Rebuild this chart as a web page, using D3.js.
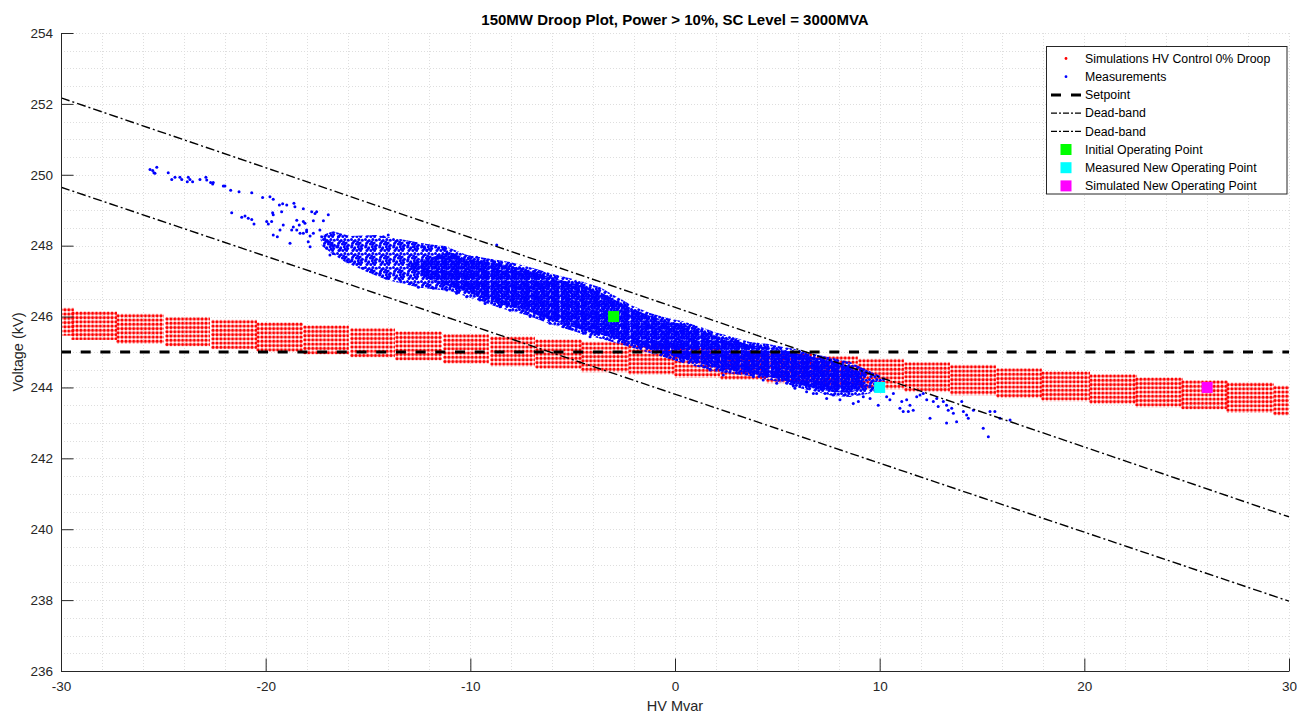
<!DOCTYPE html>
<html>
<head>
<meta charset="utf-8">
<script src="https://cdn.jsdelivr.net/npm/d3@7"></script>
<style>
body { margin: 0; background: #fff; }
text { font-family: "Liberation Sans", Arial, sans-serif; }
</style>
</head>
<body>
<div id="chart"></div>
<script>
// axis ticks
const xTicks = [-30, -20, -10, 0, 10, 20, 30];
const yTicks = [236, 238, 240, 242, 244, 246, 248, 250, 252, 254];
const xMinor = d3.range(-30, 30.01, 2);
const yMinor = d3.range(236, 254.01, 0.5);

// simulated points: blocks of the simulation grid (Q range, V range)
const simQ0 = [-30, -29.41, -27.21, -24.82, -22.57, -20.37, -18.08, -15.78, -13.58, -11.24, -8.94, -6.74, -4.50, -2.20, 0.05, 2.30, 4.54, 6.79, 9.04, 11.29, 13.53, 15.78, 17.98, 20.33, 22.57, 24.82, 27.02, 29.32];
const simQ1 = [-29.46, -27.36, -25.07, -22.82, -20.52, -18.27, -16.03, -13.78, -11.48, -9.19, -6.94, -4.64, -2.35, -0.10, 2.10, 4.35, 6.60, 8.84, 11.09, 13.34, 15.59, 17.83, 20.18, 22.48, 24.72, 26.92, 29.17, 30];
const simVTop = [246.19, 246.09, 246.02, 245.93, 245.85, 245.78, 245.70, 245.62, 245.53, 245.45, 245.38, 245.30, 245.23, 245.15, 245.08, 245.00, 244.92, 244.83, 244.75, 244.66, 244.58, 244.49, 244.40, 244.32, 244.23, 244.15, 244.08, 243.99];
const simVBot = [245.52, 245.40, 245.29, 245.22, 245.14, 245.06, 244.99, 244.91, 244.82, 244.73, 244.65, 244.58, 244.49, 244.42, 244.34, 244.27, 244.18, 244.10, 244.01, 243.93, 243.84, 243.76, 243.67, 243.59, 243.50, 243.44, 243.34, 243.27];

// measurements: outline of the cloud, its dense core, and the loose points
const envQ = [-17.35, -16.71, -15.88, -14.61, -13.44, -12.12, -11.24, -10.16, -8.89, -8.06, -6.94, -5.96, -4.79, -3.66, -2.83, -2.05, -1.22, -0.39, 0.39, 1.22, 2.05, 2.83, 3.66, 4.50, 5.28, 6.11, 6.94, 7.72, 8.55, 9.38, 10.26,
              10.26, 9.33, 8.55, 7.72, 6.94, 6.11, 5.28, 3.66, 2.05, 0.39, -1.22, -2.83, -4.50, -6.11, -7.23, -8.55, -9.53, -10.99, -12.46, -14.07, -15.05, -16.12, -16.71, -17.25];
const envV = [248.27, 248.41, 248.27, 248.30, 248.19, 248.05, 247.99, 247.74, 247.62, 247.54, 247.37, 247.20, 247.03, 246.83, 246.55, 246.30, 246.10, 245.96, 245.87, 245.71, 245.54, 245.42, 245.28, 245.23, 245.14, 245.06, 244.92, 244.83, 244.72, 244.49, 244.27,
              243.93, 243.81, 243.73, 243.76, 243.87, 243.98, 244.13, 244.32, 244.44, 244.69, 244.97, 245.25, 245.51, 245.79, 246.04, 246.24, 246.44, 246.72, 246.81, 247.03, 247.26, 247.54, 247.76, 247.99];
const coreQ = [-13.19, -10.99, -10.16, -8.89, -8.06, -6.94, -5.96, -4.79, -3.66, -2.83, -2.05, -1.22, -0.39, 0.39, 1.22, 2.05, 2.83, 3.66, 4.50, 5.28, 6.11, 6.94, 7.72, 8.55, 9.14,
               9.14, 8.55, 7.72, 6.94, 6.11, 5.28, 3.66, 2.05, 0.39, -1.22, -2.83, -4.50, -6.11, -7.23, -8.55, -9.53, -10.50, -11.97];
const coreV = [247.47, 247.82, 247.62, 247.51, 247.43, 247.26, 247.09, 246.92, 246.69, 246.44, 246.21, 246.02, 245.87, 245.79, 245.62, 245.45, 245.34, 245.20, 245.14, 245.06, 244.94, 244.83, 244.75, 244.60, 244.44,
               243.98, 243.84, 243.87, 243.96, 244.07, 244.21, 244.41, 244.55, 244.80, 245.08, 245.37, 245.62, 245.90, 246.16, 246.35, 246.55, 246.75, 247.03];
const measQ = [-25.65, -25.52, -25.46, -25.32, -25.41, -24.76, -24.59, -24.43, -24.19, -24.10, -23.78, -23.70, -23.83, -23.57, -23.21, -22.92, -22.88, -22.69, -22.56, -22.59,
               -22.07, -21.99, -21.71, -21.30, -20.68, -20.15, -19.79, -19.63, -19.33, -19.17, -18.97, -18.62, -18.57, -18.16, -21.66, -21.17, -21.01, -20.85, -20.68, -20.57,
               -19.66, -19.63, -19.71, -19.95, -19.87, -19.22, -19.14, -19.30, -19.63, -19.43, -18.81, -18.48, -18.36, -18.16, -18.65, -18.73, -18.48, -18.32, -18.00, -17.83,
               -17.67, -17.51, -17.59, -17.18, -17.35, -17.26, -17.10, -16.94, -16.77, -17.02, -16.86, -16.53, -16.37, -16.45, -17.83, -17.92, -17.75, -18.08, -18.00, -17.67,
               -18.16, -16.94, -8.71, -11.27, 5.46, 5.78,
               6.76, 6.92, 7.33, 7.41, 7.73, 8.06, 8.71, 8.96, 9.20, 9.53, 9.93, 10.34, 10.50, 10.67, 10.99, 11.08, 11.32, 11.48, 11.15, 11.40,
               11.64, 11.81, 11.97, 12.13, 12.30, 12.46, 12.62, 12.79, 12.86, 13.11, 13.27, 13.35, 13.52, 13.27, 13.60, 13.76, 14.01, 14.09, 14.25, 14.33,
               14.58, 15.06, 15.31, 15.39, 15.63, 15.88, 16.37,
               -14.25, -14.01, -13.08, -12.79, -12.25, -12.13, -11.32, -11.15, -10.75, -10.10, -9.69, -9.44, -9.12, -8.88, -8.55, -8.06, -7.82, -7.57, -7.25, -6.92,
               -6.76, -6.43, -6.11, -5.95, -5.62, -5.29, -4.80, -4.48, -4.15,
               -16.70, -15.88, -15.47, -15.23, -14.82, -14.41, -14.09, -13.44, -12.95, -12.54, -11.81, -11.15, -10.67, -10.18, -9.53, -9.28, -8.55, -8.06, -7.08, -6.60,
               -6.11, -5.46, -5.13, -4.48, -4.15, -3.83,
               4.31, 4.97, 5.86, 6.43, 3.83, 1.71, 2.36];
const measV = [250.15, 250.12, 250.06, 250.21, 250.04, 250.06, 249.87, 249.93, 249.93, 249.87, 249.93, 249.87, 249.80, 249.80, 249.87, 249.93, 249.85, 249.78, 249.78, 249.74,
               249.68, 249.68, 249.56, 249.52, 249.49, 249.36, 249.38, 249.31, 249.15, 249.18, 249.15, 249.20, 249.10, 249.04, 248.93, 248.80, 248.84, 248.77, 248.74, 248.61,
               248.93, 248.87, 248.68, 248.68, 248.61, 248.96, 248.58, 248.44, 248.30, 248.25, 248.07, 248.72, 248.58, 248.68, 248.53, 248.44, 248.44, 248.35, 248.39, 248.27,
               248.70, 248.96, 248.91, 248.70, 248.44, 248.25, 248.18, 248.11, 248.02, 247.93, 247.74, 247.97, 247.88, 248.25, 247.97, 248.11, 248.96, 248.63, 248.44, 248.35,
               248.35, 248.87, 248.02, 247.93, 244.12, 244.04,
               243.83, 243.83, 243.83, 243.69, 243.79, 243.65, 243.55, 243.60, 243.74, 243.69, 243.50, 243.74, 243.65, 243.83, 243.41, 243.60, 243.65, 243.50, 243.32, 243.32,
               243.36, 243.74, 243.79, 243.83, 243.65, 243.13, 243.60, 243.69, 243.46, 243.60, 243.50, 243.36, 243.41, 243.00, 243.27, 243.03, 243.60, 243.32, 243.22, 243.13,
               243.36, 242.85, 242.61, 243.32, 243.32, 243.13, 243.08,
               248.25, 248.30, 248.08, 247.97, 247.97, 247.88, 247.93, 247.83, 247.74, 247.64, 247.67, 247.55, 247.50, 247.55, 247.45, 247.43, 247.31, 247.36, 247.22, 247.27,
               247.22, 247.12, 247.12, 247.03, 246.98, 246.94, 246.94, 246.84, 246.75,
               247.78, 247.55, 247.50, 247.36, 247.31, 247.22, 247.08, 247.03, 246.94, 246.83, 246.80, 246.75, 246.66, 246.56, 246.47, 246.37, 246.28, 246.18, 246.00, 245.98,
               245.81, 245.71, 245.67, 245.53, 245.43, 245.53,
               244.21, 244.12, 243.98, 243.88, 244.30, 244.49, 244.35];

// reference lines
const setpointQ = [-30, 30], setpointV = [245, 245];
const bandUpQ = [-30, 30], bandUpV = [252.17, 240.35];
const bandLoQ = [-30, 30], bandLoV = [249.65, 237.97];

// operating points
const opNames = ["Initial Operating Point", "Measured New Operating Point", "Simulated New Operating Point"];
const opQ = [-3, 10, 26];
const opV = [246, 244, 244];
const opColors = ["#00ff00", "#00ffff", "#ff00ff"];

const width = 1297, height = 715;
const pL = 61, pR = 1289, pT = 33, pB = 671;

const x = d3.scaleLinear().domain([-30, 30]).range([pL, pR]);
const y = d3.scaleLinear().domain([236, 254]).range([pB, pT]);

const svg = d3.select("#chart").append("svg")
    .attr("width", width)
    .attr("height", height);

const defs = svg.append("defs");
defs.append("clipPath").attr("id", "plotclip")
    .append("rect")
    .attr("x", pL).attr("y", pT)
    .attr("width", pR - pL).attr("height", pB - pT);

// dot patterns (marker look of the point clouds)
const cw = 3.9, ch = 4.25;
const redPat = defs.append("pattern").attr("id", "reddots")
    .attr("patternUnits", "userSpaceOnUse")
    .attr("width", cw).attr("height", ch);
redPat.append("circle").attr("cx", cw / 2).attr("cy", ch / 2).attr("r", 1.6).attr("fill", "#ff0000");

const densePos = [[1.6,1.4],[4.1,1.8],[6.3,1.5],[8.5,1.9],[1.9,3.9],[4.4,4.2],[6.6,3.7],[8.3,4.4],[1.5,6.3],[3.8,6.6],[6.2,6.1],[8.6,6.8],[2.1,8.5],[4.5,8.4],[6.8,8.6],[8.4,8.5]];
const densePat = defs.append("pattern").attr("id", "bluedense")
    .attr("patternUnits", "userSpaceOnUse").attr("width", 10).attr("height", 10);
densePat.selectAll("circle").data(densePos).join("circle")
    .attr("cx", d => d[0]).attr("cy", d => d[1]).attr("r", 1.45).attr("fill", "#0000ff");

const loosePos = [[1.5,1.6],[5.2,2.4],[8.9,1.5],[12.3,2.2],[2.6,5.3],[6.4,6.1],[10.2,4.9],[12.4,7.2],[1.6,9.1],[4.8,9.8],[8.3,8.7],[11.7,10.4],[2.9,12.4],[6.9,12.5],[10.6,12.4],
                  [3.9,3.4],[7.6,3.9],[11.2,8.6],[4.2,11.1],[9.1,10.9],[8.6,6.4],[2.0,7.4]];
const loosePat = defs.append("pattern").attr("id", "blueloose")
    .attr("patternUnits", "userSpaceOnUse").attr("width", 14).attr("height", 14);
loosePat.selectAll("circle").data(loosePos).join("circle")
    .attr("cx", d => d[0]).attr("cy", d => d[1]).attr("r", 1.5).attr("fill", "#0000ff");

// grid
const grid = svg.append("g").attr("stroke", "#dedede").attr("stroke-width", 1).attr("stroke-dasharray", "1,2");
grid.selectAll(".gx").data(xMinor).join("line")
    .attr("x1", d => Math.round(x(d)) + 0.5).attr("x2", d => Math.round(x(d)) + 0.5)
    .attr("y1", pT).attr("y2", pB);
grid.selectAll(".gy").data(yMinor).join("line")
    .attr("x1", pL).attr("x2", pR)
    .attr("y1", d => Math.round(y(d)) + 0.5).attr("y2", d => Math.round(y(d)) + 0.5);

const plot = svg.append("g").attr("clip-path", "url(#plotclip)");

// simulations (red)
const simBlocks = simQ0.map((q, i) => ({ q0: q, q1: simQ1[i], vt: simVTop[i], vb: simVBot[i] }));
plot.selectAll(".sim").data(simBlocks).join("g")
    .attr("transform", d => `translate(${x(d.q0) - cw / 2},${y(d.vt) - ch / 2})`)
    .append("rect")
    .attr("width", d => x(d.q1) - x(d.q0) + cw)
    .attr("height", d => y(d.vb) - y(d.vt) + ch)
    .attr("fill", "url(#reddots)");

// measurements (blue)
const line = d3.line().x(d => x(d[0])).y(d => y(d[1]));
plot.append("path")
    .attr("d", line(envQ.map((q, i) => [q, envV[i]])) + "Z")
    .attr("fill", "url(#blueloose)");
plot.append("path")
    .attr("d", line(coreQ.map((q, i) => [q, coreV[i]])) + "Z")
    .attr("fill", "url(#bluedense)");
plot.selectAll(".meas").data(measQ.map((q, i) => [q, measV[i]])).join("circle")
    .attr("cx", d => x(d[0])).attr("cy", d => y(d[1]))
    .attr("r", 1.5).attr("fill", "#0000ff");

// setpoint and dead-band
plot.append("path")
    .attr("d", line(setpointQ.map((q, i) => [q, setpointV[i]])))
    .attr("stroke", "#000").attr("stroke-width", 3).attr("stroke-dasharray", "10,9.7").attr("fill", "none");
[[bandUpQ, bandUpV], [bandLoQ, bandLoV]].forEach(([qs, vs]) => {
    plot.append("path")
        .attr("d", line(qs.map((q, i) => [q, vs[i]])))
        .attr("stroke", "#000").attr("stroke-width", 1.4).attr("stroke-dasharray", "9,3,2,3").attr("fill", "none");
});

// operating points
svg.selectAll(".op").data(opQ).join("rect")
    .attr("x", (d, i) => x(d) - 5.5).attr("y", (d, i) => y(opV[i]) - 5.5)
    .attr("width", 11).attr("height", 11)
    .attr("fill", (d, i) => opColors[i]);

// axes
const xAxis = svg.append("g")
    .attr("transform", `translate(0,${pB})`)
    .call(d3.axisBottom(x).tickValues(xTicks).tickSize(-12.5).tickSizeOuter(0).tickPadding(10).tickFormat(d3.format("d")));
const yAxis = svg.append("g")
    .attr("transform", `translate(${pL},0)`)
    .call(d3.axisLeft(y).tickValues(yTicks).tickSize(-12.5).tickSizeOuter(0).tickPadding(8).tickFormat(d3.format("d")));
[xAxis, yAxis].forEach(a => {
    a.selectAll("path, line").attr("stroke", "#262626");
    a.selectAll("text").attr("fill", "#262626").style("font-size", "13.5px");
});
xAxis.selectAll("text").text(d => d < 0 ? "-" + Math.abs(d) : d);

// title and labels
svg.append("text")
    .attr("x", (pL + pR) / 2).attr("y", 25)
    .attr("text-anchor", "middle")
    .style("font-size", "15px").style("font-weight", "bold")
    .attr("fill", "#000")
    .text("150MW Droop Plot, Power > 10%, SC Level = 3000MVA");
svg.append("text")
    .attr("x", (pL + pR) / 2).attr("y", 711)
    .attr("text-anchor", "middle")
    .style("font-size", "14.5px").attr("fill", "#262626")
    .text("HV Mvar");
svg.append("text")
    .attr("transform", `translate(23,${(pT + pB) / 2}) rotate(-90)`)
    .attr("text-anchor", "middle")
    .style("font-size", "14.5px").attr("fill", "#262626")
    .text("Voltage (kV)");

// legend
const legendLabels = ["Simulations HV Control 0% Droop", "Measurements", "Setpoint", "Dead-band", "Dead-band"].concat(opNames);
const lg = svg.append("g");
lg.append("rect")
    .attr("x", 1046.5).attr("y", 46.5).attr("width", 240.5).attr("height", 147.5)
    .attr("fill", "#fff").attr("stroke", "#262626").attr("stroke-width", 1);
const rowY = i => 58.5 + i * 18.2;
lg.selectAll(".lt").data(legendLabels).join("text")
    .attr("x", 1085).attr("y", (d, i) => rowY(i))
    .attr("dy", "0.35em")
    .style("font-size", "12.3px").attr("fill", "#000")
    .text(d => d);
lg.append("circle").attr("cx", 1066).attr("cy", rowY(0)).attr("r", 1.4).attr("fill", "#ff0000");
lg.append("circle").attr("cx", 1066).attr("cy", rowY(1)).attr("r", 1.4).attr("fill", "#0000ff");
lg.append("line").attr("x1", 1051).attr("x2", 1081).attr("y1", rowY(2)).attr("y2", rowY(2))
    .attr("stroke", "#000").attr("stroke-width", 3).attr("stroke-dasharray", "10,10");
[3, 4].forEach(i => {
    lg.append("line").attr("x1", 1051).attr("x2", 1081).attr("y1", rowY(i)).attr("y2", rowY(i))
        .attr("stroke", "#000").attr("stroke-width", 1.2).attr("stroke-dasharray", "6,2,2,2");
});
lg.selectAll(".ls").data(opColors).join("rect")
    .attr("x", 1060.5).attr("y", (d, i) => rowY(5 + i) - 5.5)
    .attr("width", 11).attr("height", 11)
    .attr("fill", d => d);
</script>
</body>
</html>
